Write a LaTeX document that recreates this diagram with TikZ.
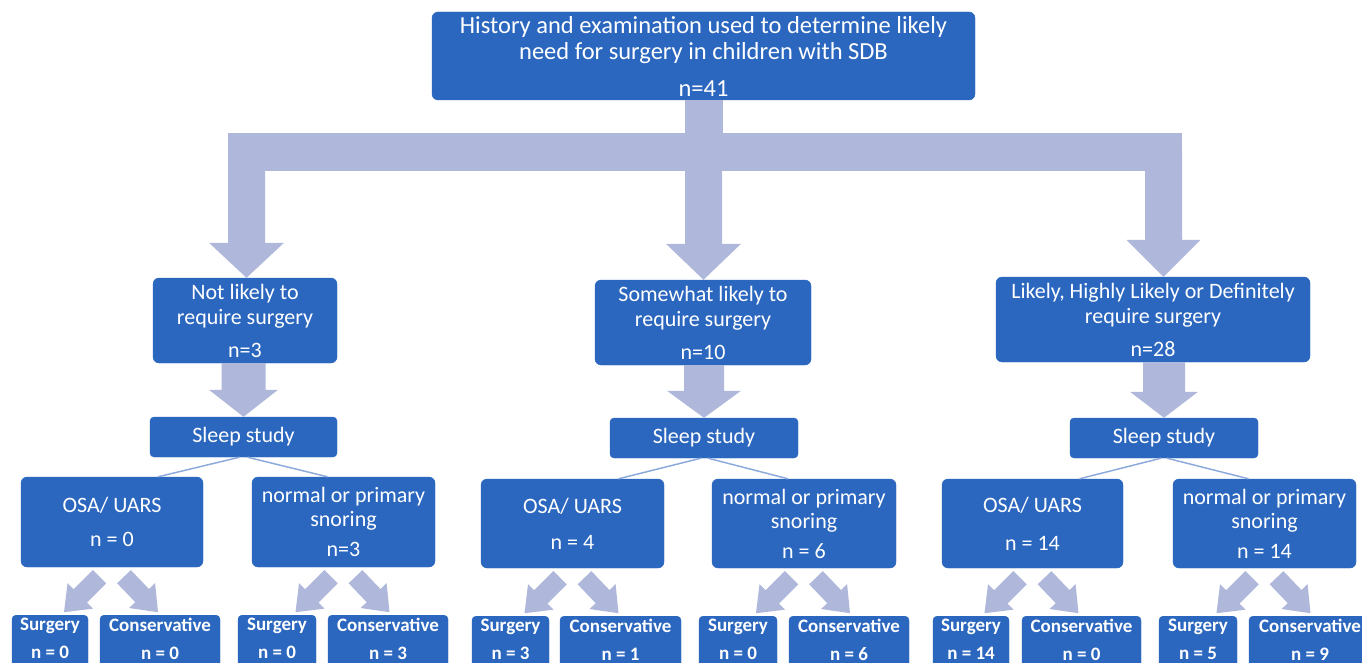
\documentclass[tikz,border=0pt]{standalone}
\usepackage{fontspec}
\setmainfont{Carlito}
\usetikzlibrary{calc}
\definecolor{boxblue}{HTML}{2B67BF}
\definecolor{arrowc}{HTML}{AFB8DA}
\definecolor{linec}{HTML}{8FAADC}
\newcommand{\fsz}[2]{\fontsize{#1}{#2}\selectfont}
% #1 tail, #2 tip, #3 half stem width, #4 half head width, #5 head length
\newcommand{\fatarrow}[5]{%
  \coordinate (fahead) at ($(#2)!#5!(#1)$);
  \fill[arrowc] ($(#1)!#3!90:(#2)$) -- ($(fahead)!#3!-90:(#1)$) -- ($(fahead)!#4!-90:(#1)$)
    -- (#2) -- ($(fahead)!#4!90:(#1)$) -- ($(fahead)!#3!90:(#1)$) -- ($(#1)!#3!-90:(#2)$) -- cycle;}
\newcommand{\diagpair}[1]{%
  \coordinate (dA) at ($(#1.south)+(-12.5,9.5)$);
  \coordinate (dB) at ($(#1.south)+(-48,45)$);
  \fatarrow{dA}{dB}{9.5pt}{18pt}{23pt}
  \coordinate (dC) at ($(#1.south)+(12,9.5)$);
  \coordinate (dD) at ($(#1.south)+(46,45)$);
  \fatarrow{dC}{dD}{9.5pt}{18pt}{23pt}}
\tikzset{
  x=1pt, y=-1pt,
  box/.style={fill=boxblue, draw=boxblue, rounded corners=6pt, text=white, align=center,
    inner sep=0pt, anchor=center},
  toptext/.style={font=\fsz{24.5}{26}},
  midtext/.style={font=\fsz{22}{25}},
  lvltext/.style={font=\fsz{22}{24}},
  sleeptext/.style={font=\fsz{22}{24}},
  bbox/.style={fill=boxblue, draw=boxblue, rounded corners=4pt, anchor=north, minimum height=80pt, inner sep=0pt},
  btext/.style={text=white, align=center, anchor=north, font=\bfseries\fsz{19}{28}, inner sep=0pt},
  thinl/.style={draw=linec, line width=1.5pt},
}
\begin{document}
\begin{tikzpicture}
\useasboundingbox (0,0) rectangle (1362,663);
\clip (0,0) rectangle (1362,663);
\fill[white] (0,0) rectangle (1362,663);

% top box
\node[box, toptext, minimum width=543pt, minimum height=88pt] (top) at (703.5,56)
  {History and examination used to determine likely\\need for surgery in children with SDB\\[11pt]n=41};

% level 2
\node[box, midtext, minimum width=184pt, minimum height=85pt] (l2) at (245,320.5)
  {Not likely to\\require surgery\\[8pt]n=3};
\node[box, midtext, minimum width=216pt, minimum height=85pt] (m2) at (703,322.5)
  {Somewhat likely to\\require surgery\\[8pt]n=10};
\node[box, midtext, minimum width=314pt, minimum height=85pt] (r2) at (1153,319.5)
  {Likely, Highly Likely or Definitely\\require surgery\\[8pt]n=28};

% sleep study
\node[box, sleeptext, rounded corners=4pt, minimum width=187pt, minimum height=40pt] (ls) at (243.5,437) {Sleep study};
\node[box, sleeptext, rounded corners=4pt, minimum width=188pt, minimum height=40pt] (ms) at (704,438) {Sleep study};
\node[box, sleeptext, rounded corners=4pt, minimum width=188pt, minimum height=40pt] (rs) at (1164,438) {Sleep study};

% level 3
\node[box, lvltext, minimum width=182pt, minimum height=90pt] (lo) at (112,522) {OSA/ UARS\\[10pt]n = 0};
\node[box, lvltext, minimum width=183pt, minimum height=90pt] (ln) at (343.5,522) {normal or primary\\snoring\\[6pt]n=3};
\node[box, lvltext, minimum width=183pt, minimum height=89pt] (mo) at (572.5,523.5) {OSA/ UARS\\[12pt]n = 4};
\node[box, lvltext, minimum width=184pt, minimum height=89pt] (mn) at (804,523.5) {normal or primary\\snoring\\[6pt]n = 6};
\node[box, lvltext, minimum width=181pt, minimum height=89pt] (ro) at (1032.5,523.5) {OSA/ UARS\\[14pt]n = 14};
\node[box, lvltext, minimum width=183pt, minimum height=89pt] (rn) at (1264.5,523.5) {normal or primary\\snoring\\[6pt]n = 14};

% bottom boxes
\node[bbox, minimum width=76pt]  (ls1) at (50,615) {};
\node[bbox, minimum width=120pt] (lc1) at (160,615) {};
\node[bbox, minimum width=78pt]  (ls2) at (277,615) {};
\node[bbox, minimum width=120pt] (lc2) at (388,615) {};
\node[bbox, minimum width=77pt]  (ms1) at (510.5,616) {};
\node[bbox, minimum width=121pt] (mc1) at (620.5,616) {};
\node[bbox, minimum width=78pt]  (ms2) at (738,616) {};
\node[bbox, minimum width=120pt] (mc2) at (849,616) {};
\node[bbox, minimum width=76pt]  (rs1) at (971,616) {};
\node[bbox, minimum width=119pt] (rc1) at (1081.5,616) {};
\node[bbox, minimum width=78pt]  (rs2) at (1198,616) {};
\node[bbox, minimum width=122pt] (rc2) at (1310,616) {};
\foreach \b/\t/\n in {ls1/Surgery/0, lc1/Conservative/0, ls2/Surgery/0, lc2/Conservative/3,
  ms1/Surgery/3, mc1/Conservative/1, ms2/Surgery/0, mc2/Conservative/6,
  rs1/Surgery/14, rc1/Conservative/0, rs2/Surgery/5, rc2/Conservative/9}
  \node[btext] (\b t) at ([yshift=-3pt]\b.north) {\t\\n = \n};

% big branching arrow
\coordinate (bl) at (246.5,152);
\coordinate (br) at (1163.5,152);
\coordinate (bm) at (top.south |- bl);
\fill[arrowc] ($(bl)+(-18.5,-19)$) rectangle ($(br)+(18.5,19)$);
\fill[arrowc] ($(top.south)+(-19,0)$) rectangle ($(bm)+(19,0)$);
\coordinate (ltip) at (bl |- l2.north);
\coordinate (mtip) at (bm |- m2.north);
\coordinate (rtip) at (br |- r2.north);
\fatarrow{bl}{ltip}{18.5pt}{37.5pt}{35pt}
\fatarrow{bm}{mtip}{18.5pt}{37.5pt}{36pt}
\fatarrow{br}{rtip}{18.5pt}{37pt}{37pt}

% level 2 -> sleep study
\coordinate (la) at (ls.north |- l2.south);
\coordinate (ma) at (ms.north |- m2.south);
\coordinate (ra) at (rs.north |- r2.south);
\fatarrow{la}{ls.north}{22pt}{34.5pt}{27pt}
\fatarrow{ma}{ms.north}{20pt}{37pt}{27pt}
\fatarrow{ra}{rs.north}{21pt}{34pt}{26pt}

% thin lines
\draw[thinl] ([xshift=-4pt]ls.south) -- ([xshift=46pt]lo.north);
\draw[thinl] ([xshift=4pt]ls.south) -- ([xshift=-16pt]ln.north);
\draw[thinl] ([xshift=-3pt]ms.south) -- ([xshift=46pt]mo.north);
\draw[thinl] ([xshift=4pt]ms.south) -- ([xshift=-16pt]mn.north);
\draw[thinl] ([xshift=-3pt]rs.south) -- ([xshift=47pt]ro.north);
\draw[thinl] ([xshift=3pt]rs.south) -- ([xshift=-16pt]rn.north);

% diagonal arrows
\diagpair{lo}
\diagpair{ln}
\diagpair{mo}
\diagpair{mn}
\diagpair{ro}
\diagpair{rn}
\end{tikzpicture}
\end{document}
